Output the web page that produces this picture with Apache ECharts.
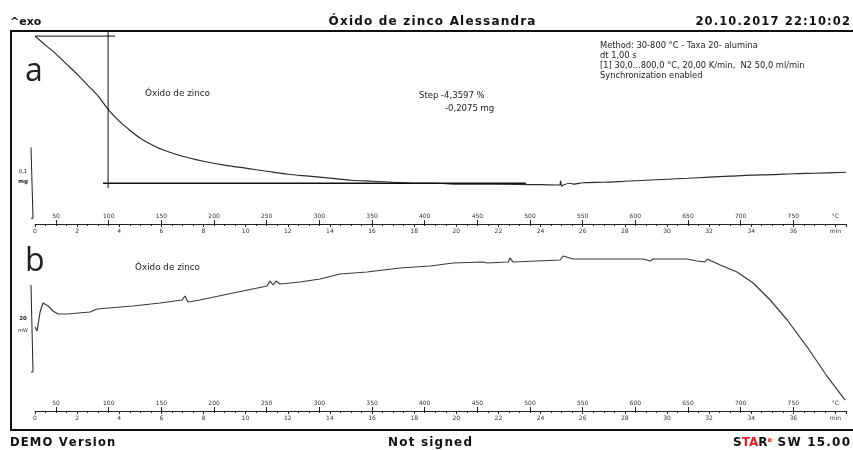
<!DOCTYPE html>
<html><head><meta charset="utf-8">
<script src="https://cdn.jsdelivr.net/npm/echarts@6/dist/echarts.min.js"></script>
<style>html,body{margin:0;padding:0;background:#fff}#c{width:853px;height:450px}</style>
</head><body><div id="c"></div><script>
// ---- data (time in min, TGA mass change in mg, DSC heat flow in mW) ----
const tgaTime = [0,0.5,1,1.5,2,2.5,3,3.5,4,4.5,5,5.5,6,7,8,9,10,11,12,13,14,15,16,17,18,19,20,22,24,24.9,24.95,25.0,25.1,25.4,25.6,26,27,28,29,30,31,32,33,34,35,36,37,38.5];
const tgaMass = [0,-0.0127,-0.0254,-0.0395,-0.0536,-0.0692,-0.0847,-0.1045,-0.1200,-0.1327,-0.1440,-0.1525,-0.1595,-0.1694,-0.1765,-0.1821,-0.1863,-0.1906,-0.1948,-0.1976,-0.2004,-0.2033,-0.2047,-0.2061,-0.2075,-0.2075,-0.2089,-0.2089,-0.2096,-0.2100,-0.2040,-0.2117,-0.2096,-0.2075,-0.2089,-0.2068,-0.2061,-0.2047,-0.2033,-0.2019,-0.2005,-0.1990,-0.1976,-0.1962,-0.1955,-0.1941,-0.1934,-0.1920];
const dscTime = [0,0.1,0.24,0.38,0.62,0.85,1.09,1.52,2.61,2.94,4.65,5.94,6.98,7.12,7.26,7.83,9.40,11.02,11.16,11.30,11.44,11.63,12.58,13.53,14.48,15.76,17.33,18.76,19.85,21.27,21.46,22.46,22.55,22.70,24.93,25.07,25.55,28.87,29.20,29.34,30.96,31.43,31.81,31.91,32.53,33.33,34.09,34.90,35.71,36.66,37.56,38.46];
const dscHeat = [0,-0.92,3.45,5.52,4.83,3.68,2.99,2.99,3.45,4.14,4.83,5.52,6.21,7.13,5.75,6.21,7.82,9.43,10.57,9.66,10.57,9.89,10.34,11.03,12.18,12.64,13.56,14.02,14.71,14.94,14.71,14.94,15.86,14.94,15.40,16.32,15.63,15.63,15.17,15.63,15.63,15.17,14.94,15.63,14.25,12.64,10.11,6.21,1.61,-4.60,-11.03,-16.78];
// step evaluation construction lines
const stepTopTime = [0, 3.8];      const stepTopMass = [0, 0];
const stepVertTime = [3.47, 3.47]; const stepVertMass = [0.007, -0.2145];
const stepBaseTime = [3.23, 23.3]; const stepBaseMass = [-0.2075, -0.2075];
// scale bars
const scaleBarA = [-0.157, -0.257];   // 0,1 mg
const scaleBarB = [9.66, -10.34];     // 20 mW
// ruler tick labels
const tempLabels = [50,100,150,200,250,300,350,400,450,500,550,600,650,700,750];
const timeStart = 0, timeEnd = 38.5, tempStart = 30, tempEnd = 800;

const zip = (a, b) => a.map((v, i) => [v, b[i]]);
const bar = (v) => [[0.3, v[0]], [0.4, v[0]], [0.4, v[1]], [0.3, v[1]]];
const FF = 'DejaVu Sans';
const HS = '\u200A';
const spaced = s => Array.from(s).join(HS);

function timeAxis(g) {
  return {type:'value', gridIndex:g, position:'bottom', min:timeStart, max:timeEnd, interval:2,
    axisLine:{show:true, onZero:false, lineStyle:{color:'#222', width:1}},
    axisTick:{show:true, length:3, lineStyle:{color:'#222'}},
    minorTick:{show:true, splitNumber:4, length:2, lineStyle:{color:'#222'}},
    splitLine:{show:false}, minorSplitLine:{show:false},
    axisLabel:{fontSize:6, color:'#333', margin:4, fontFamily:FF,
      formatter: v => (v > 38.2 ? '' : (v >= 38 ? 'min' : String(v)))}};
}
function tempAxis(g) {
  return {type:'value', gridIndex:g, position:'bottom', min:tempStart, max:tempEnd,
    axisLine:{show:false, onZero:false},
    axisTick:{show:true, inside:true, length:4, customValues:tempLabels, lineStyle:{color:'#222'}},
    splitLine:{show:false},
    axisLabel:{inside:true, fontSize:6, color:'#333', margin:5, fontFamily:FF,
      customValues: tempLabels.concat([790]),
      formatter: v => (v === 790 ? '°C' : String(v))}};
}
const hiddenX = g => ({type:'value', gridIndex:g, min:0, max:1, show:false});

const chart = echarts.init(document.getElementById('c'), null, {renderer:'canvas'});
const txt = (x, y, text, size, extra) => ({type:'text', x, y, silent:true,
  style:Object.assign({text, fontSize:size, fontFamily:FF, fill:'#222', verticalAlign:'middle'}, extra || {})});
const seg = (x1, y1, x2, y2, w) => ({type:'line', silent:true, shape:{x1, y1, x2, y2}, style:{stroke:'#111', lineWidth:w}});

chart.setOption({
  animation:false,
  backgroundColor:'#fff',
  grid:[{left:35, right:7, top:29, height:195}, {left:35, right:7, top:250, height:161},
        {left:25, width:20, top:29, height:195}, {left:25, width:20, top:250, height:161}],
  xAxis:[timeAxis(0), tempAxis(0), timeAxis(1), tempAxis(1), hiddenX(2), hiddenX(3)],
  yAxis:[{type:'value', gridIndex:0, min:-0.265, max:0.01, show:false, splitLine:{show:false}},
         {type:'value', gridIndex:1, min:-19.3, max:17.7, show:false, splitLine:{show:false}},
         {type:'value', gridIndex:2, min:-0.265, max:0.01, show:false, splitLine:{show:false}},
         {type:'value', gridIndex:3, min:-19.3, max:17.7, show:false, splitLine:{show:false}}],
  series:[
    {type:'line', name:'TGA', xAxisIndex:0, yAxisIndex:0, data:zip(tgaTime, tgaMass), showSymbol:false, smooth:0.3,
     lineStyle:{color:'#2a2a2a', width:1.2}},
    {type:'line', xAxisIndex:0, yAxisIndex:0, data:zip(stepTopTime, stepTopMass), showSymbol:false, clip:false, lineStyle:{color:'#111', width:1}},
    {type:'line', xAxisIndex:0, yAxisIndex:0, data:zip(stepVertTime, stepVertMass), showSymbol:false, clip:false, lineStyle:{color:'#111', width:1}},
    {type:'line', xAxisIndex:0, yAxisIndex:0, data:zip(stepBaseTime, stepBaseMass), showSymbol:false, clip:false, lineStyle:{color:'#111', width:1.3}},
    {type:'line', xAxisIndex:4, yAxisIndex:2, data:bar(scaleBarA), showSymbol:false, lineStyle:{color:'#222', width:1}},
    {type:'line', name:'DSC', xAxisIndex:2, yAxisIndex:1, data:zip(dscTime, dscHeat), showSymbol:false, smooth:false,
     lineStyle:{color:'#3a3a3a', width:1.2}},
    {type:'line', xAxisIndex:5, yAxisIndex:3, data:bar(scaleBarB), showSymbol:false, lineStyle:{color:'#222', width:1}}
  ],
  graphic:[
    seg(10, 31, 853, 31, 2), seg(11, 30, 11, 431, 2), seg(10, 430, 853, 430, 2),
    txt(10, 22, '^exo', 11, {fontWeight:'bold', fill:'#111'}),
    txt(432, 22, spaced('Óxido de zinco Alessandra'), 12, {fontWeight:'bold', align:'center', fill:'#111'}),
    txt(850, 22, spaced('20.10.2017 22:10:02'), 11.5, {fontWeight:'bold', align:'right', fill:'#111'}),
    txt(10, 443, spaced('DEMO Version'), 11.6, {fontWeight:'bold', fill:'#111'}),
    txt(430, 443, spaced('Not signed'), 12, {fontWeight:'bold', align:'center', fill:'#111'}),
    {type:'text', x:850, y:443, silent:true, style:{
      text:'{k|S}{r|TA}{k|R}{s|e}{k|' + spaced(' SW 15.00') + '}', align:'right', verticalAlign:'middle',
      rich:{k:{fontSize:12, fontWeight:'bold', fontFamily:FF, fill:'#111'},
            r:{fontSize:12, fontWeight:'bold', fontFamily:FF, fill:'#e0202a'},
            s:{fontSize:7, fontWeight:'bold', fontFamily:FF, fill:'#e0202a', verticalAlign:'top', padding:[0,0,6,0]}}}},
    txt(25, 72, 'a', 32, {fontFamily:'Open Sans', fill:'#222'}),
    txt(25, 262, 'b', 32, {fontFamily:'Open Sans', fill:'#222'}),
    txt(23, 172, '0,1', 5.5, {align:'center'}),
    txt(23, 182, 'mg', 5.5, {align:'center', fontWeight:'bold'}),
    txt(23, 319, '20', 5.5, {align:'center', fontWeight:'bold'}),
    txt(23, 331, 'mW', 5, {align:'center'}),
    txt(145, 94, 'Óxido de zinco', 8.8),
    txt(135, 268, 'Óxido de zinco', 8.8),
    txt(419, 96, 'Step -4,3597 %', 8.5),
    txt(445, 109, '-0,2075 mg', 8.5),
    txt(600, 46, 'Method: 30-800 °C - Taxa 20- alumina', 8.3),
    txt(600, 56, 'dt 1,00 s', 8.3),
    txt(600, 66, '[1] 30,0...800,0 °C, 20,00 K/min,  N2 50,0 ml/min', 8.3),
    txt(600, 76, 'Synchronization enabled', 8.3)
  ]
});
</script></body></html>
